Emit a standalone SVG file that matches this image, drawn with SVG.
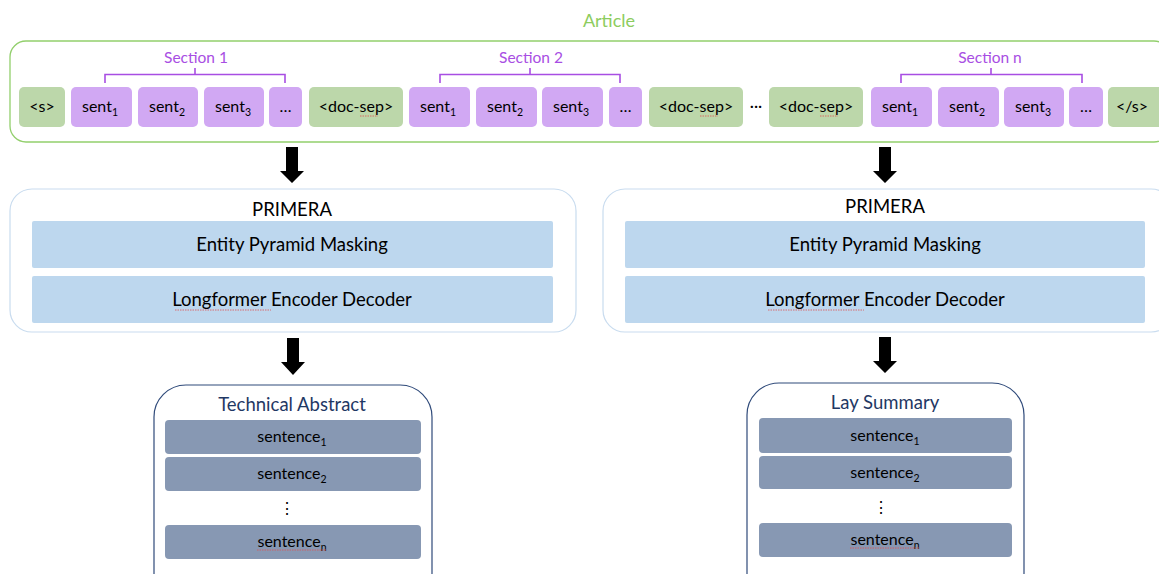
<svg xmlns="http://www.w3.org/2000/svg" width="1159" height="574" viewBox="0 0 1159 574">
<style>
text{font-family:Lato,"Open Sans","Liberation Sans",sans-serif;text-anchor:middle;fill:#000}
.tok{font-size:16px}
.sub{font-size:10.5px}
.pur{fill:#d1a8f3}
.grn{fill:#bcd7aa}
.sec{fill:#a84ee3;font-size:15.5px}
.brace{fill:none;stroke:#a84ee3;stroke-width:1.6}
.bar{fill:#bdd7ee}
.lbl{font-size:18.5px}
.sbar{fill:#8798b3}
.ttl{fill:#1f3864;font-size:18.5px}
.arr{fill:#000}
.sq{fill:none;stroke:#e05050;stroke-width:0.8;stroke-dasharray:1.5 1}
</style>
<rect width="1159" height="574" fill="#fff"/>

<g id="article">
  <text x="609" y="27" style="fill:#8dcc5e;font-size:18px">Article</text>
  <rect x="10" y="41" width="1160" height="101" rx="16" fill="none" stroke="#92cf6c" stroke-width="1.3"/>
</g>

<g id="section1">
  <text x="196" y="63" class="sec">Section 1</text>
  <path class="brace" d="M105 83 V74.5 H195 V68 M195 74.5 H285 V83"/>
</g>
<g id="section2">
  <text x="531" y="63" class="sec">Section 2</text>
  <path class="brace" d="M440 83 V74.5 H530 V68 M530 74.5 H620 V83"/>
</g>
<g id="sectionn">
  <text x="990" y="63" class="sec">Section n</text>
  <path class="brace" d="M901 83 V74.5 H991 V68 M991 74.5 H1082 V83"/>
</g>

<g id="tok-s"><rect class="grn" x="19" y="87" width="46" height="40" rx="5"/><text class="tok" x="42" y="112">&lt;s&gt;</text></g>
<g id="tok-s1a"><rect class="pur" x="71" y="87" width="61" height="40" rx="5"/><text class="tok" x="100" y="112">sent<tspan class="sub" dy="4">1</tspan></text></g>
<g id="tok-s1b"><rect class="pur" x="138" y="87" width="60" height="40" rx="5"/><text class="tok" x="167" y="112">sent<tspan class="sub" dy="4">2</tspan></text></g>
<g id="tok-s1c"><rect class="pur" x="204" y="87" width="60" height="40" rx="5"/><text class="tok" x="233" y="112">sent<tspan class="sub" dy="4">3</tspan></text></g>
<g id="tok-s1d"><rect class="pur" x="269" y="87" width="33" height="40" rx="5"/><text class="tok" x="285.5" y="112">…</text></g>
<g id="tok-sep1"><rect class="grn" x="309" y="87" width="94" height="40" rx="5"/><text class="tok" x="356" y="112">&lt;doc-sep&gt;</text><path class="sq" d="M360 116 H378"/></g>

<g id="tok-s2a"><rect class="pur" x="409" y="87" width="61" height="40" rx="5"/><text class="tok" x="438" y="112">sent<tspan class="sub" dy="4">1</tspan></text></g>
<g id="tok-s2b"><rect class="pur" x="476" y="87" width="61" height="40" rx="5"/><text class="tok" x="505" y="112">sent<tspan class="sub" dy="4">2</tspan></text></g>
<g id="tok-s2c"><rect class="pur" x="542" y="87" width="61" height="40" rx="5"/><text class="tok" x="571" y="112">sent<tspan class="sub" dy="4">3</tspan></text></g>
<g id="tok-s2d"><rect class="pur" x="609" y="87" width="33" height="40" rx="5"/><text class="tok" x="625.5" y="112">…</text></g>
<g id="tok-sep2"><rect class="grn" x="649" y="87" width="94" height="40" rx="5"/><text class="tok" x="696" y="112">&lt;doc-sep&gt;</text><path class="sq" d="M700 116 H718"/></g>
<g id="tok-dots"><text class="tok" x="756" y="111">···</text></g>
<g id="tok-sep3"><rect class="grn" x="769" y="87" width="94" height="40" rx="5"/><text class="tok" x="816" y="112">&lt;doc-sep&gt;</text><path class="sq" d="M820 116 H838"/></g>

<g id="tok-sna"><rect class="pur" x="871" y="87" width="61" height="40" rx="5"/><text class="tok" x="900" y="112">sent<tspan class="sub" dy="4">1</tspan></text></g>
<g id="tok-snb"><rect class="pur" x="938" y="87" width="61" height="40" rx="5"/><text class="tok" x="967" y="112">sent<tspan class="sub" dy="4">2</tspan></text></g>
<g id="tok-snc"><rect class="pur" x="1004" y="87" width="60" height="40" rx="5"/><text class="tok" x="1033" y="112">sent<tspan class="sub" dy="4">3</tspan></text></g>
<g id="tok-snd"><rect class="pur" x="1069" y="87" width="34" height="40" rx="5"/><text class="tok" x="1086" y="112">…</text></g>
<g id="tok-end"><rect class="grn" x="1108" y="87" width="58" height="40" rx="5"/><text class="tok" x="1132" y="112">&lt;/s&gt;</text></g>

<g id="primera-left">
  <rect x="10" y="189" width="566" height="143" rx="22" fill="#fff" stroke="#c9dcef" stroke-width="1.2"/>
  <text x="292" y="216" class="lbl">PRIMERA</text>
  <rect class="bar" x="32" y="221" width="521" height="47" rx="2"/>
  <text x="292" y="251" class="lbl">Entity Pyramid Masking</text>
  <rect class="bar" x="32" y="276" width="521" height="47" rx="2"/>
  <text x="292" y="306" class="lbl">Longformer Encoder Decoder</text>
  <path class="sq" d="M175 310 H271"/>
</g>

<g id="primera-right">
  <rect x="603" y="189" width="570" height="143" rx="22" fill="#fff" stroke="#c9dcef" stroke-width="1.2"/>
  <text x="885" y="213" class="lbl">PRIMERA</text>
  <rect class="bar" x="625" y="221" width="520" height="47" rx="2"/>
  <text x="885" y="251" class="lbl">Entity Pyramid Masking</text>
  <rect class="bar" x="625" y="276" width="520" height="47" rx="2"/>
  <text x="885" y="306" class="lbl">Longformer Encoder Decoder</text>
  <path class="sq" d="M768 310 H864"/>
</g>

<g id="tech-abstract">
  <rect x="154" y="385" width="278" height="220" rx="32" fill="#fff" stroke="#2f4a7a" stroke-width="1.2"/>
  <text x="292" y="411" class="ttl">Technical Abstract</text>
  <rect class="sbar" x="165" y="420" width="256" height="34" rx="4"/>
  <text x="292" y="442" class="tok">sentence<tspan class="sub" dy="4">1</tspan></text>
  <rect class="sbar" x="165" y="457" width="256" height="34" rx="4"/>
  <text x="292" y="479" class="tok">sentence<tspan class="sub" dy="4">2</tspan></text>
  <text x="287" y="514" class="tok">⋮</text>
  <rect class="sbar" x="165" y="525" width="256" height="34" rx="4"/>
  <text x="292" y="547" class="tok">sentence<tspan class="sub" dy="4">n</tspan></text>
  <path class="sq" d="M257 550 H327"/>
</g>

<g id="lay-summary">
  <rect x="747" y="383" width="277" height="222" rx="32" fill="#fff" stroke="#2f4a7a" stroke-width="1.2"/>
  <text x="885" y="409" class="ttl">Lay Summary</text>
  <rect class="sbar" x="759" y="418" width="253" height="35" rx="4"/>
  <text x="885" y="441" class="tok">sentence<tspan class="sub" dy="4">1</tspan></text>
  <rect class="sbar" x="759" y="456" width="253" height="33" rx="4"/>
  <text x="885" y="478" class="tok">sentence<tspan class="sub" dy="4">2</tspan></text>
  <text x="881" y="513" class="tok">⋮</text>
  <rect class="sbar" x="759" y="523" width="253" height="34" rx="4"/>
  <text x="885" y="545" class="tok">sentence<tspan class="sub" dy="4">n</tspan></text>
  <path class="sq" d="M850 548 H920"/>
</g>

<g id="connectors">
  <polygon class="arr" points="286,147 298,147 298,171 304,171 292,183 280,171 286,171"/>
  <polygon class="arr" points="879,147 891,147 891,171 897,171 885,183 873,171 879,171"/>
  <polygon class="arr" points="287,338 299,338 299,362 305,362 293,375 281,362 287,362"/>
  <polygon class="arr" points="879,337 891,337 891,361 897,361 885,373 873,361 879,361"/>
</g>
</svg>
